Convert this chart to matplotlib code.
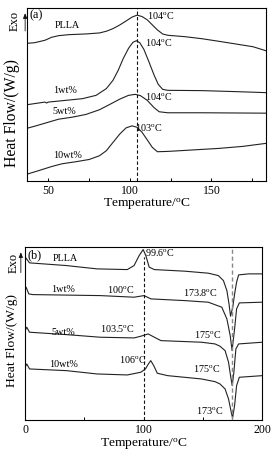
import numpy as np
import matplotlib
matplotlib.use("Agg")
import matplotlib.pyplot as plt
from matplotlib.ticker import MultipleLocator, FixedLocator

plt.rcParams.update({
    "font.family": ["Liberation Serif", "DejaVu Serif"],
    "mathtext.fontset": "custom",
    "mathtext.rm": "Liberation Serif",
    "mathtext.it": "Liberation Serif:italic",
    "axes.linewidth": 0.8,
    "xtick.direction": "in",
    "xtick.major.width": 0.7,
    "xtick.minor.width": 0.7,
    "xtick.major.size": 2.5,
    "xtick.minor.size": 2.5,
})

DEG = r"$^{\rm o}$C"
LINE = "#222222"

# ---- panel (a) : cooling scans ----------------------------------------------
a_plla_t = [37, 41.6, 47.9, 52.1, 56.3, 62.6, 73.0, 81.4, 85.6, 89.7, 93.9, 98.1, 101.3,
            104.4, 107.5, 110.7, 113.8, 116.9, 120.1, 123.2, 133.7, 144.1, 154.6, 165.1,
            175.5, 183.5]
a_plla_h = [136.7, 137.3, 139.7, 142.7, 144.3, 145.3, 146, 147, 148.7, 151.3, 155, 159.3,
            162.7, 164.7, 163.3, 160, 155, 150, 146, 144.7, 143.3, 141.3, 138.7, 136, 133.3,
            129.3]

a_1wt_t = [37, 43.7, 47.9, 49.0, 50, 60.5, 70.9, 79.3, 85.6, 89.7, 92.9, 96.0, 99.2, 101.9,
           104.0, 106.1, 108.6, 111.7, 114.9, 117.4, 120.1, 123.2, 144.1, 165.1, 183.5]
a_1wt_h = [75.7, 77.3, 78.3, 77.4, 78.3, 80, 81.7, 85, 91.7, 100, 110, 121.7, 131.7, 137.7,
           139.3, 137.3, 130.7, 118.3, 105, 96, 91, 90, 89.7, 88.7, 87.7]

a_5wt_t = [37, 41.6, 47.9, 56.3, 64.6, 73.0, 81.4, 87.7, 93.9, 99.2, 103.3, 106.5, 110.7,
           114.9, 118.0, 123.2, 144.1, 183.5]
a_5wt_h = [52.3, 54.3, 57.3, 61.3, 63.3, 66, 70.7, 76, 81.3, 85, 86, 84.7, 80, 72.7, 68.7,
           67.7, 67.7, 67.3]

a_10wt_t = [37, 43.7, 52.1, 58.4, 66.7, 75.1, 81.4, 85.6, 89.7, 93.9, 97.7, 101.3, 104.4,
            107.5, 110.7, 113.8, 116.9, 123.2, 133.7, 154.6, 169.2, 183.5]
a_10wt_h = [6.7, 10, 14.3, 17, 19, 21.3, 25, 30, 38.3, 46.7, 52.7, 54.7, 53.3, 48.3, 40.7,
            33.3, 29, 29.3, 30.3, 32.3, 34.3, 37.3]

# ---- panel (b) : heating scans ----------------------------------------------
b_plla_t = [0, 0.85, 3.7, 35, 60.6, 86.2, 91.9, 96.2, 99.6, 101.8, 104.7, 109, 134.6, 154.5,
            163, 167.3, 170.2, 172, 173.3, 175.2, 176.6, 178.4, 180.1, 188.6, 200]
b_plla_h = [159.3, 161.7, 157, 154.3, 151, 150.3, 154.3, 164.3, 170.3, 164.3, 152.7, 150.3,
            148.7, 146.7, 144.3, 139.3, 129.3, 116, 103.7, 113, 125, 137.7, 145, 146, 146]

b_1wt_t = [0, 0.85, 3.1, 6.5, 63.4, 91.9, 100.4, 106.1, 134.6, 154.5, 165.9, 170.2, 173,
           174.6, 176.7, 178.4, 180.7, 200]
b_1wt_h = [129.3, 132.7, 126, 125.3, 124.3, 122.7, 124.3, 121, 119.3, 117.7, 112.7, 101,
           84.3, 69.3, 91, 111, 117, 117.7]

b_5wt_t = [0, 1.4, 3.7, 35, 63.4, 91.9, 97.6, 103.8, 109, 114.6, 148.8, 160.2, 164.4, 168.7,
           171.6, 173.3, 174.7, 176.1, 177.8, 180.1, 200]
b_5wt_h = [89.3, 92.7, 87.7, 85.3, 82.7, 82, 83.7, 86, 82.7, 79.3, 77.7, 76, 73.7, 69.3,
           57.7, 44.3, 34.3, 47.7, 71, 76, 77.7]

b_10wt_t = [0, 1.4, 3.7, 35, 60.6, 86.2, 97.6, 101.5, 104, 106, 108.5, 111.5, 120.3, 148.8,
            160.2, 164.4, 168.7, 171.6, 173.9, 175, 176.7, 178.4, 180.7, 200]
b_10wt_h = [52.7, 56, 51, 49.3, 46, 45, 47.7, 51, 56, 59.3, 54.3, 46.7, 44.3, 41, 38.3, 36,
            31, 21, 7.7, 2, 14.3, 34.3, 42.7, 44.3]

fig = plt.figure(figsize=(2.76, 4.58), dpi=100)
ax1 = fig.add_axes([0.098, 0.605, 0.866, 0.378])
ax2 = fig.add_axes([0.091, 0.083, 0.859, 0.378])

# ---- (a) ---------------------------------------------------------------------
for t, h in [(a_plla_t, a_plla_h), (a_1wt_t, a_1wt_h), (a_5wt_t, a_5wt_h), (a_10wt_t, a_10wt_h)]:
    ax1.plot(t, h, color=LINE, lw=0.8)
ax1.axvline(104.4, color="#111111", ls=(0, (3, 2)), lw=0.8)
ax1.set_xlim(37, 183.5)
ax1.set_ylim(0, 172)
ax1.xaxis.set_major_locator(FixedLocator([50, 100, 150]))
ax1.xaxis.set_minor_locator(FixedLocator([75, 125, 175]))
ax1.set_yticks([])
ax1.tick_params(axis="x", labelsize=8.5, pad=3)
ax1.set_xlabel("Temperature/" + DEG, fontsize=9.7, labelpad=0)

fs = 7.3
ax1.text(38.5, 165, "(a)", fontsize=8.8, va="center")
ax1.text(61.5, 154, "PLLA", fontsize=fs, ha="center", va="center")
ax1.text(110.5, 164, "104" + DEG, fontsize=fs, va="center")
ax1.text(60, 90, "1wt%", fontsize=fs, ha="center", va="center")
ax1.text(109.6, 137.3, "104" + DEG, fontsize=fs, va="center")
ax1.text(60, 69, "5wt%", fontsize=fs, ha="center", va="center")
ax1.text(109.6, 84, "104" + DEG, fontsize=fs, va="center")
ax1.text(102.9, 53.3, "103" + DEG, fontsize=fs, va="center")
ax1.text(61.7, 25, "10wt%", fontsize=fs, ha="center", va="center")

ax1.text(-0.05, 0.925, "Exo", transform=ax1.transAxes, rotation=90, fontsize=9,
         ha="center", va="center")
ax1.annotate("", xy=(-0.008, 0.985), xytext=(-0.008, 0.85), xycoords="axes fraction",
             arrowprops=dict(arrowstyle="-|>,head_length=0.3,head_width=0.12", lw=0.6,
                             color="#111111"), annotation_clip=False)
ax1.text(-0.065, 0.39, "Heat Flow/(W/g)", transform=ax1.transAxes, rotation=90,
         fontsize=11.3, ha="center", va="center")

# ---- (b) ---------------------------------------------------------------------
for t, h in [(b_plla_t, b_plla_h), (b_1wt_t, b_1wt_h), (b_5wt_t, b_5wt_h), (b_10wt_t, b_10wt_h)]:
    ax2.plot(t, h, color=LINE, lw=0.8)
ax2.axvline(100, ymax=0.94, color="#111111", ls=(0, (3, 2)), lw=0.8)
ax2.axvline(174.5, color="#888888", ls=(0, (3, 2)), lw=1.0)
ax2.set_xlim(0, 200)
ax2.set_ylim(0, 173)
ax2.xaxis.set_major_locator(MultipleLocator(100))
ax2.xaxis.set_minor_locator(FixedLocator([50, 150]))
ax2.set_yticks([])
ax2.tick_params(axis="x", labelsize=8.5, pad=3)
ax2.set_xlabel("Temperature/" + DEG, fontsize=9.7, labelpad=0)

ax2.text(2.0, 164.3, "(b)", fontsize=8.8, va="center")
ax2.text(33.6, 161, "PLLA", fontsize=fs, ha="center", va="center")
ax2.text(100.8, 167, "99.6" + DEG, fontsize=fs, va="center")
ax2.text(31.6, 130.3, "1wt%", fontsize=fs, ha="center", va="center")
ax2.text(80.5, 130.3, "100" + DEG, fontsize=fs, ha="center", va="center")
ax2.text(147.7, 127.7, "173.8" + DEG, fontsize=fs, ha="center", va="center")
ax2.text(32.4, 87.7, "5wt%", fontsize=fs, ha="center", va="center")
ax2.text(78, 91.7, "103.5" + DEG, fontsize=fs, ha="center", va="center")
ax2.text(153.9, 85, "175" + DEG, fontsize=fs, ha="center", va="center")
ax2.text(32.7, 55, "10wt%", fontsize=fs, ha="center", va="center")
ax2.text(90.5, 60.3, "106" + DEG, fontsize=fs, ha="center", va="center")
ax2.text(152.8, 51.7, "175" + DEG, fontsize=fs, ha="center", va="center")
ax2.text(155.3, 9.3, "173" + DEG, fontsize=fs, ha="center", va="center")

ax2.text(-0.05, 0.907, "Exo", transform=ax2.transAxes, rotation=90, fontsize=9,
         ha="center", va="center")
ax2.annotate("", xy=(-0.018, 0.985), xytext=(-0.018, 0.835), xycoords="axes fraction",
             arrowprops=dict(arrowstyle="-|>,head_length=0.3,head_width=0.12", lw=0.6,
                             color="#111111"), annotation_clip=False)
ax2.text(-0.055, 0.46, "Heat Flow/(W/g)", transform=ax2.transAxes, rotation=90,
         fontsize=9.7, ha="center", va="center")

fig.savefig("out.png", dpi=100)
